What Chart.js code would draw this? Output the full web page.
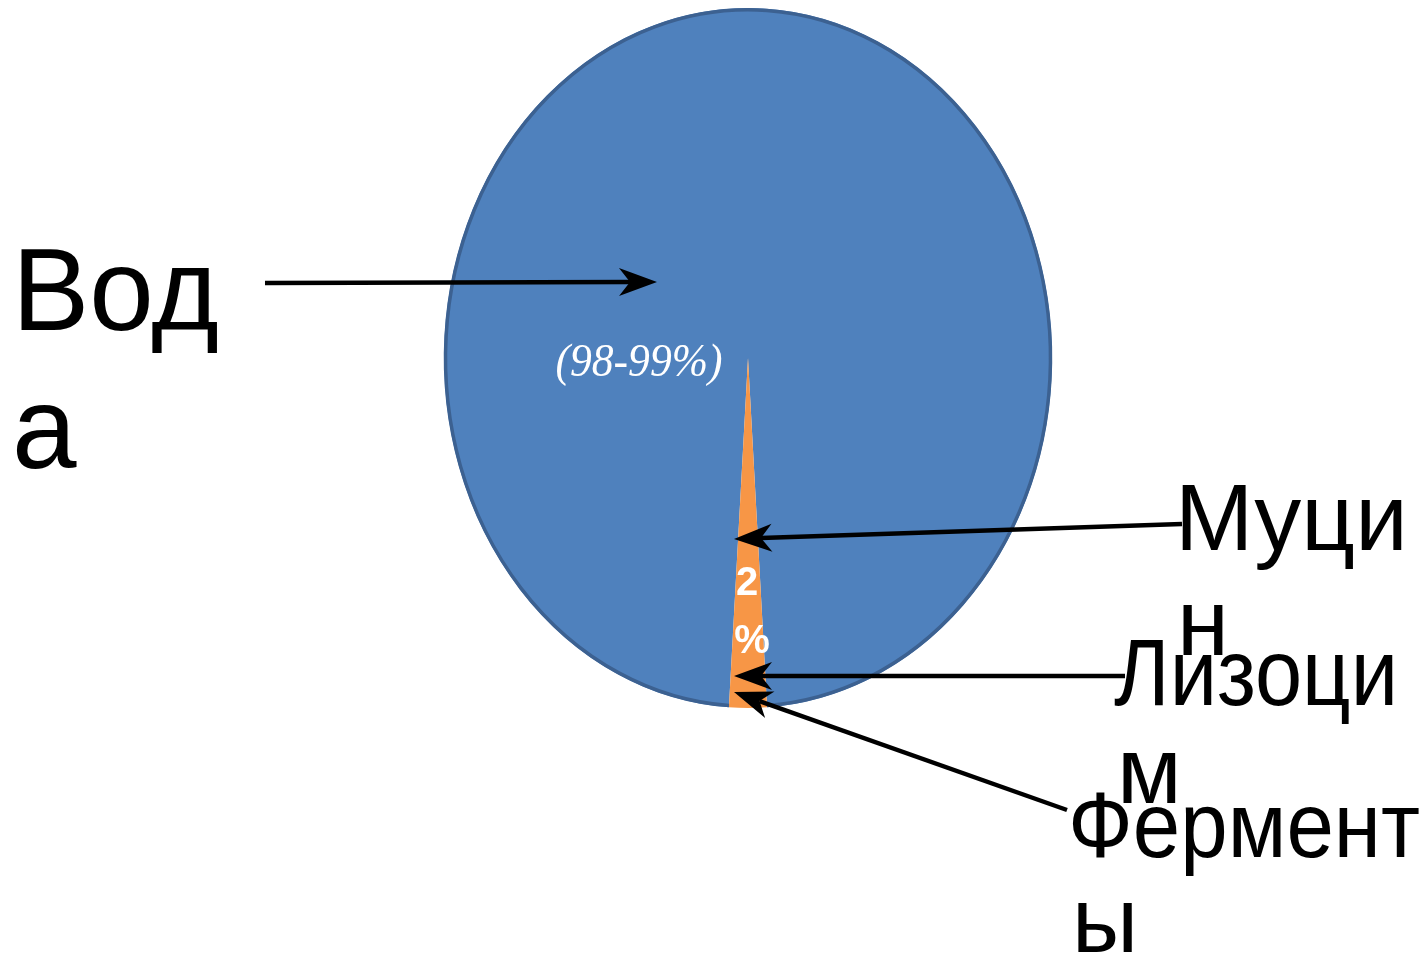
<!DOCTYPE html>
<html>
<head>
<meta charset="utf-8">
<script src="https://cdn.jsdelivr.net/npm/chart.js@4"></script>
<style>
  html, body { margin: 0; padding: 0; background: #ffffff; }
  #wrap { width: 1426px; height: 962px; position: relative; }
</style>
</head>
<body>
<div id="wrap"><canvas id="salivaChart"></canvas></div>
<script>
// Данные
const parts = ["Вода", "Муцин, лизоцим, ферменты"]
const shares = [98, 2]
const sliceColors = ["#4f81bd", "#f79646"]
const waterNote = "(98-99%)"
const restNote = ["2", "%"]
const callouts = [
  ["Вод", "а"],
  ["Муци", "н"],
  ["Лизоци", "м"],
  ["Фермент", "ы"],
]

const Y_STRETCH = 350 / 304

// Стрелка с вогнутым наконечником
function drawArrow(ctx, x1, y1, x2, y2) {
  const ang = Math.atan2(y2 - y1, x2 - x1)
  const len = 38, half = 14, notch = 27
  const cos = Math.cos(ang), sin = Math.sin(ang)
  ctx.save()
  ctx.strokeStyle = "#000"
  ctx.fillStyle = "#000"
  ctx.lineWidth = 4.5
  ctx.beginPath()
  ctx.moveTo(x1, y1)
  ctx.lineTo(x2 - cos * notch, y2 - sin * notch)
  ctx.stroke()
  ctx.beginPath()
  ctx.moveTo(x2, y2)
  ctx.lineTo(x2 - cos * len - sin * half, y2 - sin * len + cos * half)
  ctx.lineTo(x2 - cos * notch, y2 - sin * notch)
  ctx.lineTo(x2 - cos * len + sin * half, y2 - sin * len - cos * half)
  ctx.closePath()
  ctx.fill()
  ctx.restore()
}

// Растянуть круг в эллипс и обвести контур
const ellipsePlugin = {
  id: "ellipse",
  beforeDatasetsDraw(chart) {
    const arc = chart.getDatasetMeta(0).data[0]
    const ctx = chart.ctx
    ctx.save()
    ctx.translate(arc.x, arc.y)
    ctx.scale(1, Y_STRETCH)
    ctx.translate(-arc.x, -arc.y)
  },
  afterDatasetsDraw(chart) {
    const arc = chart.getDatasetMeta(0).data[0]
    const ctx = chart.ctx
    ctx.beginPath()
    ctx.arc(arc.x, arc.y, arc.outerRadius - 1.5, arc.startAngle, arc.endAngle)
    ctx.restore()
    ctx.save()
    ctx.strokeStyle = "#3c6191"
    ctx.lineWidth = 3.5
    ctx.stroke()
    ctx.restore()
  },
}

// Подписи и стрелки
const labelPlugin = {
  id: "labels",
  afterDraw(chart) {
    const ctx = chart.ctx
    ctx.save()
    ctx.textAlign = "left"
    ctx.textBaseline = "alphabetic"
    ctx.fillStyle = "#000"

    ctx.font = "116px 'Liberation Sans', Arial, sans-serif"
    ctx.fillText(callouts[0][0], 12, 330)
    ctx.fillText(callouts[0][1], 12, 468)

    ctx.font = "94px 'Liberation Sans', Arial, sans-serif"
    ctx.fillText(callouts[1][0], 1175, 550)
    ctx.fillText(callouts[1][1], 1177, 655)
    ctx.fillText(callouts[2][0], 1114, 705, 284)
    ctx.fillText(callouts[2][1], 1117, 803)
    ctx.font = "92px 'Liberation Sans', Arial, sans-serif"
    ctx.fillText(callouts[3][0], 1068, 857, 352)
    ctx.fillText(callouts[3][1], 1072, 952)

    ctx.fillStyle = "#ffffff"
    ctx.textAlign = "center"
    ctx.font = "italic 47px 'Liberation Serif', 'DejaVu Serif', serif"
    ctx.fillText(waterNote, 639, 376, 167)
    ctx.font = "bold 40px 'Liberation Sans', Arial, sans-serif"
    ctx.fillText(restNote[0], 747, 595)
    ctx.fillText(restNote[1], 752, 653)
    ctx.restore()

    drawArrow(ctx, 265, 283, 657, 282)
    drawArrow(ctx, 1182, 524, 734, 539)
    drawArrow(ctx, 1125, 676, 734, 676)
    drawArrow(ctx, 1067, 810, 734, 692)
  },
}

function createChart() {
  const ctx = document.getElementById("salivaChart").getContext("2d")
  const Chart = window.Chart
  new Chart(ctx, {
    type: "pie",
    data: {
      labels: parts,
      datasets: [
        {
          data: shares,
          backgroundColor: sliceColors,
          borderWidth: 0,
          clip: false,
        },
      ],
    },
    options: {
      responsive: true,
      maintainAspectRatio: false,
      animation: false,
      rotation: -176.4,
      layout: {
        padding: { left: 444, right: 374, top: 8, bottom: 254 },
      },
      plugins: {
        legend: { display: false },
        tooltip: { enabled: false },
      },
    },
    plugins: [ellipsePlugin, labelPlugin],
  })
}

document.addEventListener("DOMContentLoaded", () => {
  createChart()
})
</script>
</body>
</html>
